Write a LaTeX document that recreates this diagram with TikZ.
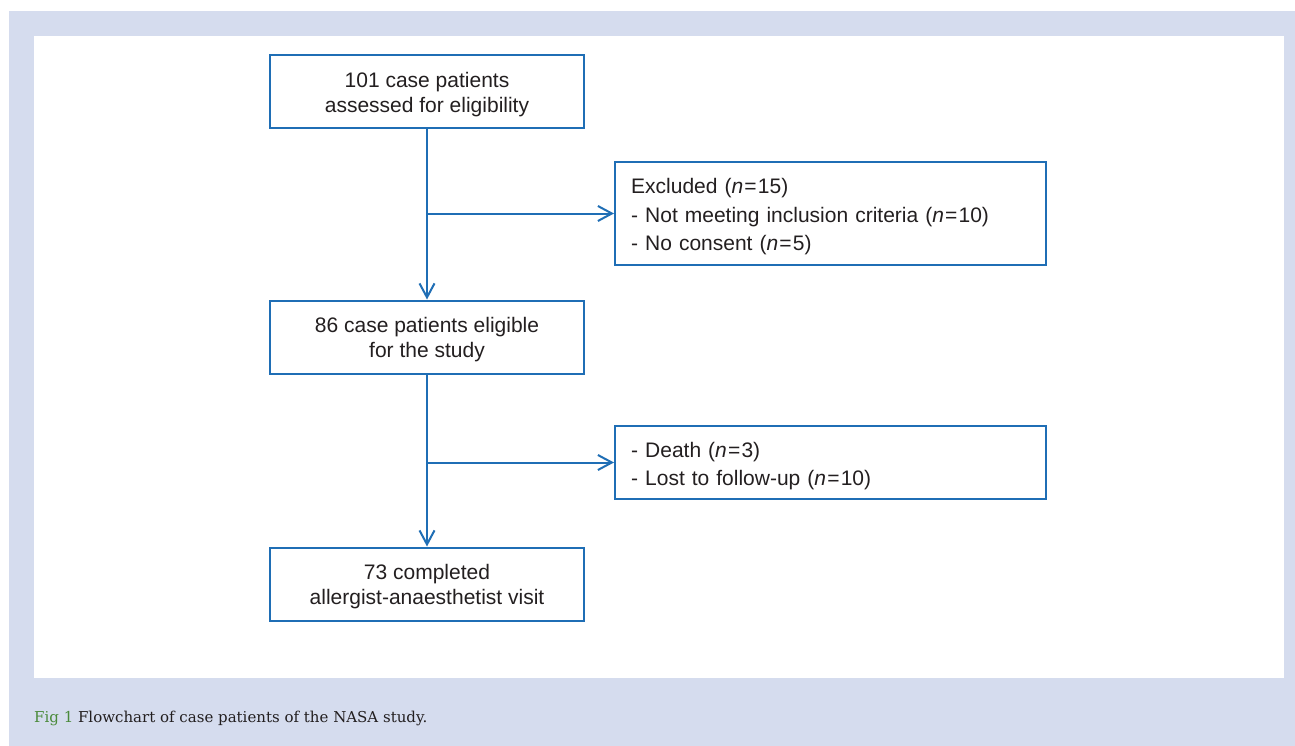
\documentclass[tikz,border=0pt]{standalone}
\usepackage{fontspec}
\setmainfont{Liberation Sans}
\newfontfamily\capfont{DejaVu Serif}
\usetikzlibrary{arrows.meta}
\definecolor{bgblue}{HTML}{D5DCEE}
\definecolor{lineblue}{HTML}{1F6EB5}
\definecolor{txt}{HTML}{231F20}
\definecolor{figgreen}{HTML}{4A8A3A}
\newcommand{\eqs}{\kern1.2pt=\kern1.2pt}
\tikzset{
  cbox/.style={draw=lineblue, line width=2pt, fill=white, minimum width=314pt, minimum height=73pt, inner sep=0pt},
  lbox/.style={draw=lineblue, line width=2pt, fill=white, minimum width=431pt, inner sep=0pt},
  ctext/.style={align=center, text=txt, inner sep=0pt, font=\fontsize{21}{25}\selectfont},
  ltext/.style={anchor=west, text width=397pt, align=left, text=txt, inner sep=0pt, font=\fontsize{21}{28.5}\selectfont},
  flow/.style={draw=lineblue, line width=2pt, -{Straight Barb[length=14pt,width=15pt,line width=2pt]}},
}
\begin{document}
\begin{tikzpicture}[x=1pt,y=-1pt]
\useasboundingbox (0,0) rectangle (1295,746);
\fill[bgblue] (9,11) rectangle (1295,746);
\fill[white] (34,36) rectangle (1284,678);
\node[cbox] (b1) at (427,91.5) {};
\node[ctext] (t1) at ([yshift=-3pt]b1.center) {101 case patients\\assessed for eligibility};
\node[lbox, minimum height=103pt] (b2) at (830.5,213.5) {};
\node[ltext] (t2) at ([xshift=17pt,yshift=-3.5pt]b2.west) {Excluded (\textit{n}\eqs15)\\- Not meeting inclusion criteria (\textit{n}\eqs10)\\- No consent (\textit{n}\eqs5)};
\node[cbox] (b3) at (427,337) {};
\node[ctext] (t3) at ([yshift=-3pt]b3.center) {86 case patients eligible\\for the study};
\node[lbox, minimum height=73pt] (b4) at (830.5,462.5) {};
\node[ltext] (t4) at ([xshift=17pt,yshift=-3.5pt]b4.west) {- Death (\textit{n}\eqs3)\\- Lost to follow-up (\textit{n}\eqs10)};
\node[cbox] (b5) at (427,584) {};
\node[ctext] (t5) at ([yshift=-3pt]b5.center) {73 completed\\allergist-anaesthetist visit};
\draw[flow] (b1) -- (b3);
\draw[flow] (b1.south |- b2.west) -- (b2.west);
\draw[flow] (b3) -- (b5);
\draw[flow] (b3.south |- b4.west) -- (b4.west);
\node[anchor=base west, inner sep=0pt, font=\capfont\fontsize{15}{18}\selectfont, text=txt] (cap) at (34,722) {\textcolor{figgreen}{Fig 1} Flowchart of case patients of the NASA study.};
\end{tikzpicture}
\end{document}
